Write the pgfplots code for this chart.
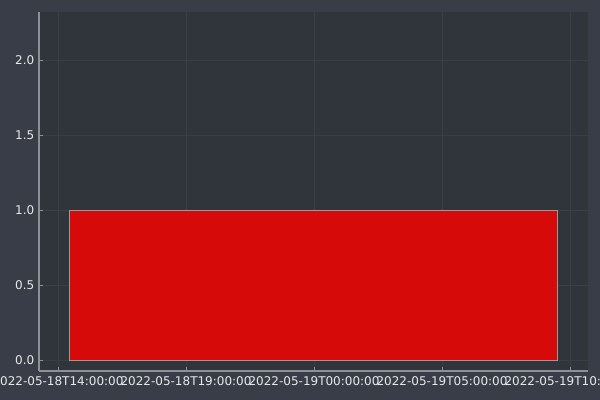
\documentclass[border=0pt]{standalone}
\usepackage{pgfplots}
\pgfplotsset{compat=1.18}
\usepackage{fontspec}
\setmainfont{DejaVu Sans}
\definecolor{outerbg}{HTML}{383D47}
\definecolor{innerbg}{HTML}{30343B}
\definecolor{fgtext}{HTML}{E8E8E8}
\definecolor{axline}{HTML}{8C9097}
\definecolor{gridc}{HTML}{3A3E46}
\definecolor{barred}{HTML}{D70A0A}
\begin{document}
\begin{tikzpicture}[x=1pt,y=1pt]
\path[use as bounding box] (-29.25,-21.75) rectangle (420.75,278.25);
\clip (-29.25,-21.75) rectangle (420.75,278.25);
\fill[outerbg] (-29.25,-21.75) rectangle (420.75,278.25);
\begin{axis}[
  at={(0,0)}, anchor=south west,
  scale only axis,
  width=411.75pt, height=269.25pt,
  xmin=-0.742, xmax=20.70,
  ymin=-0.073, ymax=2.32,
  axis background/.style={fill=innerbg},
  axis x line*=bottom, axis y line*=left,
  axis line style={axline, line width=1pt, -},
  xtick={0,5,10,15,20},
  xticklabels={2022-05-18T14:00:00,2022-05-18T19:00:00,2022-05-19T00:00:00,2022-05-19T05:00:00,2022-05-19T10:00:00},
  ytick={0,0.5,1,1.5,2},
  y tick label style={/pgf/number format/fixed, /pgf/number format/fixed zerofill, /pgf/number format/precision=1},
  /pgf/number format/assume math mode=true,
  tick align=inside,
  major tick length=3pt,
  tick style={axline, line width=0.6pt},
  grid=major,
  major grid style={gridc, line width=0.6pt},
  ticklabel style={font=\fontsize{9}{11}\selectfont, text=fgtext},
  x tick label style={yshift=-1pt},
  clip=false,
]
\addplot[fill=barred, draw=gray!80, line width=0.6pt] coordinates {(0.43,0) (19.49,0) (19.49,1) (0.43,1) (0.43,0)} -- cycle;
\end{axis}
\end{tikzpicture}
\end{document}
